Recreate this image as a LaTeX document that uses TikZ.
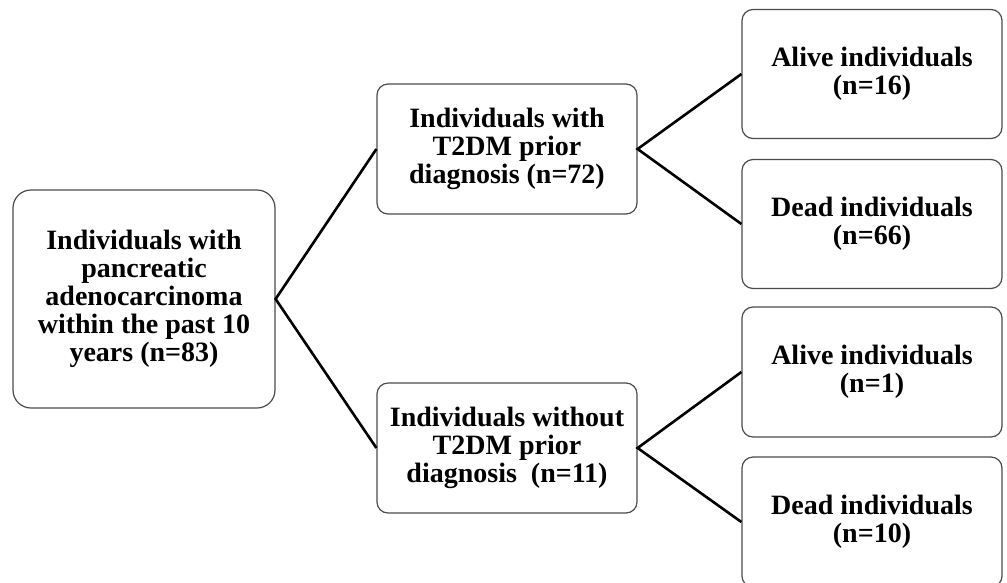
\documentclass[tikz,border=0pt]{standalone}
\usepackage{fontspec}
\setmainfont{Liberation Serif}
\begin{document}
\begin{tikzpicture}[x=1pt,y=-1pt,
  box/.style={draw=black!70, line width=1.2pt, fill=white, rounded corners=11pt,
    align=center, inner sep=0pt, font=\fontsize{28}{28}\selectfont\bfseries},
  link/.style={line width=2.6pt, black}]
\useasboundingbox (0,0) rectangle (1007,582);
\clip (0,0) rectangle (1007,582);
\node[box, rounded corners=18pt, minimum width=262pt, minimum height=218pt] (root) at (144,299)
  {Individuals with\\pancreatic\\adenocarcinoma\\within the past 10\\years (n=83)};
\node[box, minimum width=260pt, minimum height=130pt] (with) at (507,149)
  {Individuals with\\T2DM prior\\diagnosis (n=72)};
\node[box, minimum width=260pt, minimum height=130pt] (without) at (507,448)
  {Individuals without\\T2DM prior\\diagnosis\ \ (n=11)};
\node[box, minimum width=260pt, minimum height=129pt] (a1) at (872,74)
  {Alive individuals\\(n=16)};
\node[box, minimum width=260pt, minimum height=129pt] (d1) at (872,224)
  {Dead individuals\\(n=66)};
\node[box, minimum width=260pt, minimum height=130pt] (a2) at (872,372)
  {Alive individuals\\(n=1)};
\node[box, minimum width=260pt, minimum height=130pt] (d2) at (872,522)
  {Dead individuals\\(n=10)};
\draw[link] (with.west) -- (root.east) -- (without.west);
\draw[link] (a1.west) -- (with.east) -- (d1.west);
\draw[link] (a2.west) -- (without.east) -- (d2.west);
\end{tikzpicture}
\end{document}
